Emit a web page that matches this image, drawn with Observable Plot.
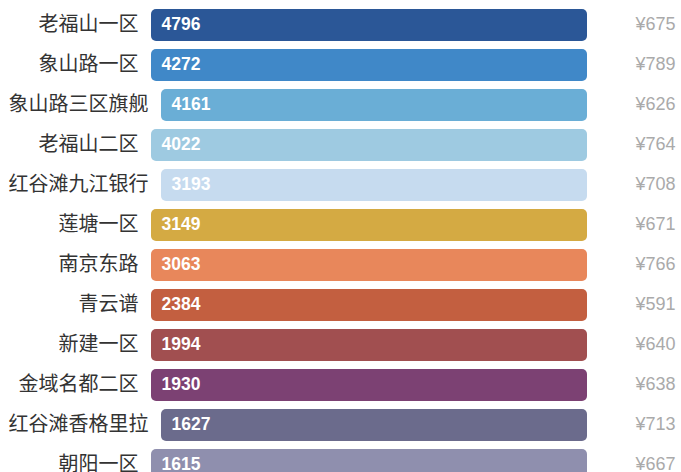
<!DOCTYPE html>
<html>
<head>
<meta charset="utf-8">
<script src="https://cdn.jsdelivr.net/npm/d3@7"></script>
<script src="https://cdn.jsdelivr.net/npm/@observablehq/plot@0.6"></script>
<style>
  html, body { margin: 0; padding: 0; background: #fff; }
</style>
</head>
<body>
<div id="chart"></div>
<script>
const names = ["老福山一区", "象山路一区", "象山路三区旗舰", "老福山二区", "红谷滩九江银行", "莲塘一区", "南京东路", "青云谱", "新建一区", "金域名都二区", "红谷滩香格里拉", "朝阳一区"];
const counts = [4796, 4272, 4161, 4022, 3193, 3149, 3063, 2384, 1994, 1930, 1627, 1615];
const prices = [675, 789, 626, 764, 708, 671, 766, 591, 640, 638, 713, 667];
const colors = ["#2b5797", "#4088c8", "#6aaed6", "#9ecae1", "#c6dbef", "#d4aa43", "#e8875b", "#c35f40", "#a14f50", "#7c4173", "#6b6b8c", "#8f8fae"];

const rows = names.map((n, i) => ({name: n, count: counts[i], price: prices[i], color: colors[i]}));

const labelFont = "20px 'Noto Sans CJK SC'";
const ctx = document.createElement("canvas").getContext("2d");
ctx.font = labelFont;
const labelLeft = 8, labelMin = 130, gap = 13, barEnd = 587, priceX = 635;
const labelEnd = d => labelLeft + Math.max(labelMin, ctx.measureText(d.name).width);
const barStart = d => labelEnd(d) + gap;

const chart = Plot.plot({
  width: 681,
  height: 490,
  margin: 0,
  style: {background: "#fff"},
  x: {domain: [0, 681], range: [0, 681], axis: null},
  y: {domain: names, range: [5, 485], paddingInner: 0.2, paddingOuter: 0.1, axis: null},
  color: {type: "identity"},
  marks: [
    Plot.barX(rows, {y: "name", x1: barStart, x2: () => barEnd, fill: "color", rx: 5}),
    Plot.text(rows, {y: "name", x: labelEnd, text: "name", textAnchor: "end", fontSize: 20, fill: "#333", dy: -1, fontFamily: "'Noto Sans CJK SC', sans-serif"}),
    Plot.text(rows, {y: "name", x: d => barStart(d) + 10, text: d => String(d.count), textAnchor: "start", fontSize: 17.5, fontWeight: "bold", fill: "#fff", dy: -1.5, fontFamily: "'Liberation Sans', Arial, sans-serif"}),
    Plot.text(rows, {y: "name", x: () => priceX, text: d => "¥" + d.price, textAnchor: "start", fontSize: 18, fill: "#aaa", dy: -1, fontFamily: "'Liberation Sans', Arial, sans-serif"})
  ]
});
document.getElementById("chart").appendChild(chart);
</script>
</body>
</html>
